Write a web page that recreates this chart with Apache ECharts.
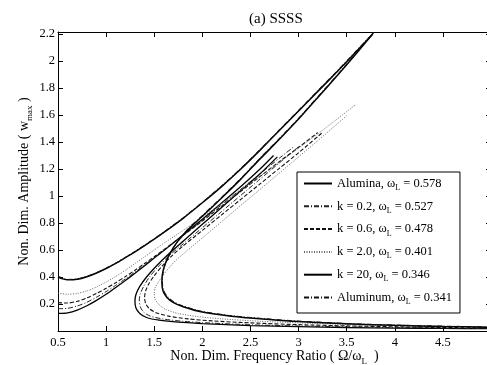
<!DOCTYPE html>
<html>
<head>
<meta charset="utf-8">
<script src="https://cdn.jsdelivr.net/npm/echarts@6/dist/echarts.min.js"></script>
<style>
  html, body { margin: 0; padding: 0; background: #fff; }
  #main { width: 487px; height: 365px; }
</style>
</head>
<body>
<div id="main"></div>
<script>
// materials in legend order
const names = ["Alumina", "k = 0.2", "k = 0.6", "k = 2.0", "k = 20", "Aluminum"];
const omegaL = ["0.578", "0.527", "0.478", "0.401", "0.346", "0.341"];
const xTicks = [0.5, 1, 1.5, 2, 2.5, 3, 3.5, 4, 4.5];
const yTicks = [0.2, 0.4, 0.6, 0.8, 1, 1.2, 1.4, 1.6, 1.8, 2, 2.2];

// left branch (starting at 0.5) and right branch (top -> turning point -> tail)
const aluminaL = [[0.5,0.13],[0.6,0.135],[0.7,0.155],[0.8,0.187],[0.9,0.227],[1.0,0.272],[1.1,0.322],[1.2,0.374],[1.3,0.428],[1.4,0.484],[1.5,0.54],[1.6,0.597],[1.8,0.712],[2.0,0.828],[2.2,0.948],[2.4,1.07],[2.6,1.2],[2.74,1.3]];
const aluminaR = [[2.78,1.29],[2.6,1.165],[2.4,1.04],[2.2,0.915],[2.0,0.79],[1.8,0.665],[1.65,0.57],[1.52,0.48],[1.42,0.4],[1.35,0.33],[1.31,0.27],[1.3,0.22],[1.31,0.17],[1.35,0.13],[1.42,0.1],[1.55,0.08],[1.75,0.065],[2.0,0.055],[2.5,0.04],[3.0,0.032],[3.5,0.026],[4.0,0.022],[4.5,0.019],[5.0,0.017]];

const k02L = [[0.5,0.165],[0.6,0.168],[0.7,0.185],[0.8,0.213],[0.9,0.25],[1.0,0.292],[1.1,0.338],[1.2,0.386],[1.3,0.437],[1.4,0.49],[1.5,0.543],[1.6,0.597],[1.8,0.708],[2.0,0.82],[2.2,0.935],[2.4,1.05],[2.6,1.165],[2.8,1.28],[2.96,1.37]];
const k02R = [[3.0,1.365],[2.8,1.245],[2.6,1.125],[2.4,1.005],[2.2,0.885],[2.0,0.765],[1.8,0.645],[1.65,0.555],[1.54,0.475],[1.45,0.4],[1.39,0.33],[1.355,0.275],[1.345,0.23],[1.355,0.18],[1.39,0.14],[1.46,0.11],[1.6,0.088],[1.8,0.072],[2.0,0.062],[2.5,0.046],[3.0,0.037],[3.5,0.03],[4.0,0.025],[4.5,0.021],[5.0,0.018]];

const k06L = [[0.5,0.21],[0.6,0.207],[0.7,0.22],[0.8,0.245],[0.9,0.278],[1.0,0.316],[1.1,0.358],[1.2,0.403],[1.3,0.45],[1.4,0.5],[1.5,0.55],[1.6,0.602],[1.8,0.708],[2.0,0.815],[2.2,0.925],[2.4,1.035],[2.6,1.145],[2.8,1.255],[3.0,1.36],[3.2,1.47]];
const k06R = [[3.24,1.465],[3.0,1.32],[2.8,1.205],[2.6,1.09],[2.4,0.975],[2.2,0.86],[2.0,0.745],[1.8,0.63],[1.68,0.555],[1.58,0.48],[1.5,0.41],[1.44,0.345],[1.41,0.295],[1.4,0.25],[1.41,0.205],[1.45,0.165],[1.52,0.135],[1.65,0.11],[1.85,0.09],[2.1,0.075],[2.5,0.06],[3.0,0.047],[3.5,0.038],[4.0,0.031],[4.5,0.026],[5.0,0.022]];

const k2L = [[0.5,0.28],[0.6,0.272],[0.7,0.278],[0.8,0.297],[0.9,0.326],[1.0,0.362],[1.1,0.404],[1.2,0.45],[1.3,0.5],[1.4,0.55],[1.5,0.6],[1.6,0.65],[1.8,0.745],[2.0,0.845],[2.2,0.945],[2.4,1.045],[2.6,1.145],[2.8,1.25],[3.0,1.355],[3.2,1.46],[3.4,1.57],[3.6,1.68]];
const k2R = [[3.5,1.595],[3.2,1.41],[3.0,1.29],[2.8,1.17],[2.6,1.05],[2.4,0.93],[2.2,0.81],[2.0,0.69],[1.85,0.6],[1.72,0.52],[1.62,0.44],[1.55,0.37],[1.51,0.32],[1.5,0.28],[1.51,0.235],[1.55,0.195],[1.62,0.16],[1.75,0.13],[1.95,0.107],[2.2,0.09],[2.6,0.072],[3.0,0.06],[3.5,0.048],[4.0,0.04],[4.5,0.034],[5.0,0.029]];

const k20L = [[0.5,0.4],[0.55,0.386],[0.6,0.379],[0.7,0.383],[0.8,0.402],[0.9,0.43],[1.0,0.463],[1.1,0.501],[1.2,0.543],[1.3,0.586],[1.4,0.632],[1.5,0.68],[1.6,0.73],[1.8,0.835],[2.0,0.95],[2.2,1.07],[2.4,1.2],[2.6,1.34],[2.8,1.485],[3.0,1.63],[3.2,1.775],[3.4,1.92],[3.6,2.07],[3.77,2.2]];
const k20R = [[3.77,2.2],[3.6,2.055],[3.4,1.89],[3.2,1.73],[3.0,1.57],[2.8,1.42],[2.6,1.275],[2.4,1.125],[2.2,0.985],[2.0,0.85],[1.85,0.75],[1.74,0.66],[1.66,0.57],[1.61,0.49],[1.585,0.42],[1.58,0.36],[1.59,0.3],[1.63,0.25],[1.7,0.21],[1.8,0.18],[2.0,0.14],[2.3,0.11],[2.7,0.085],[3.0,0.07],[3.5,0.053],[4.0,0.042],[4.5,0.034],[5.0,0.028]];

const aluminumL = [[0.5,0.405],[0.55,0.39],[0.6,0.382],[0.7,0.386],[0.8,0.404],[0.9,0.432],[1.0,0.465],[1.1,0.503],[1.2,0.545],[1.3,0.589],[1.4,0.635],[1.5,0.683],[1.6,0.733],[1.8,0.838],[2.0,0.953],[2.2,1.074],[2.4,1.204],[2.6,1.344],[2.8,1.489],[3.0,1.634],[3.2,1.78],[3.4,1.925],[3.6,2.075],[3.78,2.21]];
const aluminumR = [[3.78,2.21],[3.6,2.06],[3.4,1.895],[3.2,1.735],[3.0,1.575],[2.8,1.425],[2.6,1.28],[2.4,1.13],[2.2,0.99],[2.0,0.855],[1.85,0.755],[1.745,0.665],[1.665,0.575],[1.615,0.495],[1.59,0.425],[1.585,0.365],[1.595,0.305],[1.635,0.255],[1.705,0.215],[1.8,0.185],[2.0,0.145],[2.3,0.113],[2.7,0.088],[3.0,0.073],[3.5,0.055],[4.0,0.044],[4.5,0.036],[5.0,0.03]];

const branches = [
  [aluminaL, aluminaR],
  [k02L, k02R],
  [k06L, k06R],
  [k2L, k2R],
  [k20L, k20R],
  [aluminumL, aluminumR]
];
const styles = [
  { type: "solid", width: 1.3, color: "#000" },
  { type: [5, 2, 1, 2], width: 1, color: "#222" },
  { type: [4, 2], width: 1.1, color: "#111" },
  { type: [1, 1.5], width: 1, color: "#666" },
  { type: "solid", width: 1.5, color: "#000" },
  { type: [5, 2, 1, 2], width: 1.1, color: "#111" }
];

const font = "Liberation Serif";
const chart = echarts.init(document.getElementById("main"), null, { renderer: "canvas" });

let series = [];
names.forEach(function (n, i) {
  branches[i].forEach(function (d) {
    series.push({
      name: n,
      type: "line",
      data: d,
      symbol: "none",
      smooth: 0.25,
      lineStyle: styles[i],
      itemStyle: { color: styles[i].color },
      z: 2
    });
  });
});

function axisCommon(pos, showLabels) {
  return {
    type: "value",
    position: pos,
    axisLine: { show: true, onZero: false, lineStyle: { color: "#000", width: 1 } },
    axisTick: { show: true, inside: true, length: 5, lineStyle: { color: "#000" } },
    splitLine: { show: false },
    axisLabel: { show: showLabels, color: "#000", fontFamily: font, fontSize: 12.5, margin: 4 }
  };
}

const option = {
  animation: false,
  backgroundColor: "#fff",
  title: {
    text: "(a) SSSS",
    left: 244,
    top: 7,
    textStyle: { fontFamily: font, fontSize: 15, fontWeight: "normal", color: "#000" }
  },
  grid: { left: 58, right: -4, top: 32, bottom: 34, containLabel: false, outerBoundsMode: "none" },
  legend: {
    data: names,
    orient: "vertical",
    left: 297,
    top: 172,
    backgroundColor: "#fff",
    borderColor: "#000",
    borderWidth: 1,
    borderRadius: 0,
    padding: [5, 8, 7, 6],
    itemWidth: 28,
    itemHeight: 14,
    itemGap: 7.8,
    selectedMode: false,
    itemStyle: { opacity: 0, borderWidth: 0 },
    formatter: function (name) {
      return name + ", \u03c9{sub|L} = " + omegaL[names.indexOf(name)];
    },
    textStyle: {
      fontFamily: font, fontSize: 12.5, color: "#000",
      rich: { sub: { fontFamily: font, fontSize: 8, padding: [9, 0, 0, 0], color: "#000" } }
    }
  },
  xAxis: [
    Object.assign(axisCommon("bottom", true), {
      min: 0.5, max: 5, interval: 0.5,
      axisLabel: {
        color: "#000", fontFamily: font, fontSize: 12.5, margin: 5, showMaxLabel: false,
        formatter: function (v) { return xTicks.indexOf(v) >= 0 ? String(v) : ""; }
      },
      name: "Non. Dim. Frequency Ratio ( \u03a9/\u03c9{sub|L}  )",
      nameLocation: "middle",
      nameGap: 16,
      nameMoveOverlap: false,
      nameTextStyle: {
        fontFamily: font, fontSize: 14, color: "#000",
        rich: { sub: { fontFamily: font, fontSize: 9, padding: [10, 0, 0, 0], color: "#000" } }
      }
    }),
    Object.assign(axisCommon("top", false), { min: 0.5, max: 5, interval: 0.5 })
  ],
  yAxis: [
    Object.assign(axisCommon("left", true), {
      min: 0, max: 2.215, interval: 0.2,
      axisLabel: {
        color: "#000", fontFamily: font, fontSize: 12.5, margin: 3, showMaxLabel: false,
        formatter: function (v) {
          const r = Math.round(v * 10) / 10;
          return yTicks.indexOf(r) >= 0 ? String(r) : "";
        }
      },
      name: "Non. Dim. Amplitude ( w{sub|max} )",
      nameLocation: "middle",
      nameGap: 24,
      nameMoveOverlap: false,
      nameTextStyle: {
        fontFamily: font, fontSize: 14, color: "#000",
        rich: { sub: { fontFamily: font, fontSize: 9, padding: [10, 0, 0, 0], color: "#000" } }
      }
    }),
    Object.assign(axisCommon("right", false), { min: 0, max: 2.215, interval: 0.2 })
  ],
  series: series
};
chart.setOption(option);
</script>
</body>
</html>
